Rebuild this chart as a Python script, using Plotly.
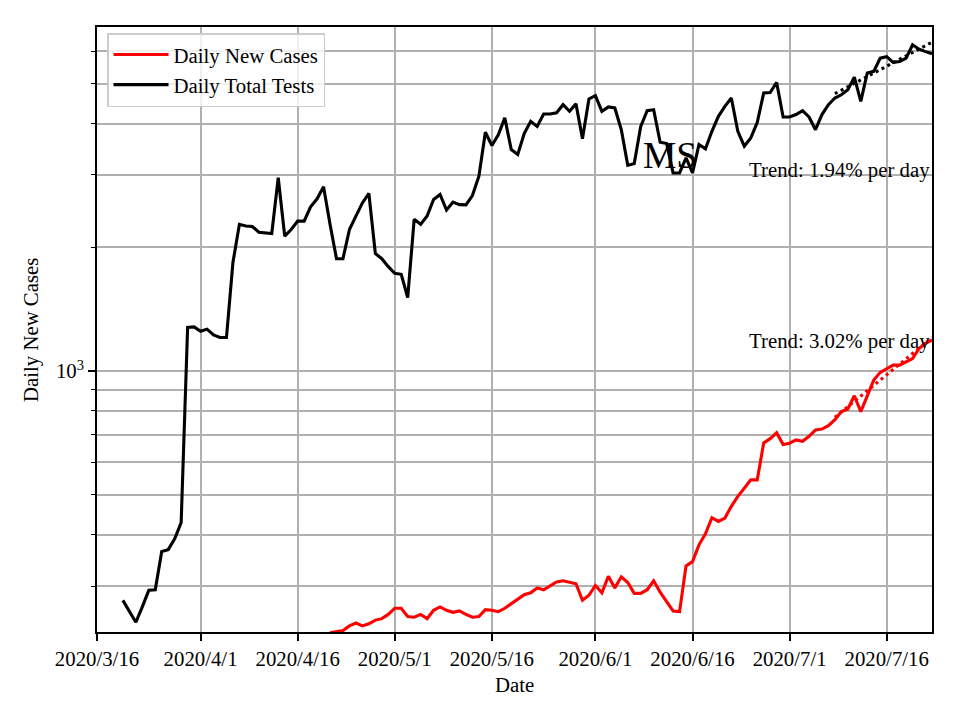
import numpy as np
import pandas as pd
import plotly.graph_objects as go

# ---------------- data ----------------
tests_start = "2020-03-20"
daily_total_tests = [
    277, 261, 245, 267, 293, 294, 364, 368, 391, 428,
    1277, 1281, 1250, 1265, 1225, 1207, 1207, 1837, 2275, 2255,
    2248, 2177, 2170, 2162, 2953, 2130, 2210, 2316, 2316, 2510,
    2625, 2807, 2275, 1877, 1877, 2210, 2383, 2565, 2705, 1932,
    1877, 1795, 1729, 1720, 1510, 2340, 2275, 2383, 2615, 2690,
    2464, 2577, 2541, 2538, 2673, 2978, 3810, 3537, 3757, 4129,
    3458, 3366, 3783, 4050, 3936, 4222, 4222, 4249, 4446, 4285,
    4467, 3673, 4591, 4677, 4285, 4390, 4365, 3865, 3165, 3197,
    3936, 4300, 4323, 3603, 3578, 3034, 3034, 3302, 3034, 3557,
    3472, 3830, 4166, 4404, 4615, 3830, 3524, 3690, 4025, 4749,
    4760, 5036, 4150, 4150, 4208, 4300, 4150, 3865, 4208, 4446,
    4615, 4700, 4837, 5189, 4530, 5310, 5360, 5770, 5820, 5635,
    5660, 5770, 6220, 6067, 5986, 5916,
]

cases_start = "2020-04-21"
daily_new_cases = [
    231, 233, 234, 240, 244, 240, 243, 248, 250, 256,
    265, 265, 253, 252, 256, 250, 262, 267, 262, 259,
    261, 256, 252, 253, 263, 262, 260, 265, 272, 279,
    286, 289, 297, 294, 300, 307, 309, 307, 304, 277,
    285, 301, 289, 317, 297, 316, 306, 288, 288, 294,
    309, 290, 275, 261, 260, 336, 344, 378, 402, 440,
    431, 439, 469, 496, 519, 544, 544, 669, 685, 708,
    663, 668, 680, 675, 694, 719, 723, 737, 762, 797,
    809, 871, 797, 875, 951, 993, 1015, 1034, 1034, 1053,
    1073, 1135, 1168, 1191,
]

# trend lines (exponential -> straight on the log axis): two end points each
trend_dates = ["2020-07-08", "2020-07-23"]
tests_trend = [4730, 6310]
cases_trend = [772, 1207]
tests_trend_label = "Trend: 1.94% per day"
cases_trend_label = "Trend: 3.02% per day"

x_tick_dates = ["2020-03-16", "2020-04-01", "2020-04-16", "2020-05-01", "2020-05-16",
                "2020-06-01", "2020-06-16", "2020-07-01", "2020-07-16"]
x_tick_labels = ["2020/3/16", "2020/4/1", "2020/4/16", "2020/5/1", "2020/5/16",
                 "2020/6/1", "2020/6/16", "2020/7/1", "2020/7/16"]
y_major_ticks = [1000]
y_major_labels = ["10<sup>3</sup>"]
y_minor_ticks = [300, 400, 500, 600, 700, 800, 900, 2000, 3000, 4000, 5000, 6000]
x_range = ["2020-03-16", "2020-07-23"]
y_limits = [232, 6870]

# ---------------- figure ----------------
FONT = "Liberation Serif"
FS = 20.8
GRID = "#b0b0b0"

tests_dates = pd.date_range(tests_start, periods=len(daily_total_tests), freq="D")
cases_dates = pd.date_range(cases_start, periods=len(daily_new_cases), freq="D")

fig = go.Figure()
fig.add_trace(go.Scatter(x=cases_dates, y=daily_new_cases, mode="lines",
                         name="Daily New Cases", line=dict(color="#ff0000", width=3.1)))
fig.add_trace(go.Scatter(x=tests_dates, y=daily_total_tests, mode="lines",
                         name="Daily Total Tests", line=dict(color="#000000", width=3.1)))
fig.add_trace(go.Scatter(x=pd.to_datetime(trend_dates), y=tests_trend, mode="lines",
                         showlegend=False, line=dict(color="#000000", width=3.1, dash="3px,3.6px")))
fig.add_trace(go.Scatter(x=pd.to_datetime(trend_dates), y=cases_trend, mode="lines",
                         showlegend=False, line=dict(color="#ff0000", width=3.1, dash="3px,3.6px")))

# the page body adds an 8px offset; the figure is sized so the plot area lands
# at page pixels x 97..932, y 27..632
OFF = 8
W, H = 944, 704
L = 97 - OFF
T = 27 - OFF
R = W - (932 - OFF)
B = H - (632 - OFF)

fig.update_layout(
    width=W, height=H,
    margin=dict(l=L, r=R, t=T, b=B, pad=0),
    paper_bgcolor="white", plot_bgcolor="white",
    font=dict(family=FONT, size=FS, color="black"),
    showlegend=True,
    legend=dict(x=0.012, y=0.99, xanchor="left", yanchor="top",
                bgcolor="rgba(255,255,255,0.8)", bordercolor="#cccccc", borderwidth=1.5,
                font=dict(family=FONT, size=FS), itemwidth=55, tracegroupgap=0),
    xaxis=dict(
        type="date", range=x_range,
        tickmode="array", tickvals=x_tick_dates, ticktext=x_tick_labels,
        ticks="outside", ticklen=7, tickwidth=1.7, tickcolor="black",
        showgrid=True, gridcolor=GRID, gridwidth=1.7,
        showline=True, linecolor="black", linewidth=1.7, mirror=True,
        zeroline=False, tickfont=dict(family=FONT, size=FS),
    ),
    yaxis=dict(
        type="log", range=[np.log10(y_limits[0]), np.log10(y_limits[1])],
        tickmode="array", tickvals=y_major_ticks, ticktext=y_major_labels,
        ticks="outside", ticklen=7, tickwidth=1.7, tickcolor="black",
        showgrid=True, gridcolor=GRID, gridwidth=1.7,
        minor=dict(tickmode="array", tickvals=y_minor_ticks, ticks="outside", ticklen=4,
                   tickwidth=1.2, tickcolor="black", showgrid=True, gridcolor=GRID, gridwidth=1.7),
        showline=True, linecolor="black", linewidth=1.7, mirror=True,
        zeroline=False, tickfont=dict(family=FONT, size=FS),
    ),
)

pw = W - L - R
ph = H - T - B
def px(xp):
    # page pixel x -> paper fraction
    return (xp - OFF - L) / pw
def py(yp):
    # page pixel y -> paper fraction
    return (H - B - (yp - OFF)) / ph

annotations = [
    dict(text="Daily New Cases", x=px(31), y=py(330), textangle=-90,
         xanchor="center", yanchor="middle", font=dict(family=FONT, size=FS)),
    dict(text="Date", x=px(514), y=py(684), xanchor="center", yanchor="middle",
         font=dict(family=FONT, size=FS)),
    dict(text="MS", x=px(670), y=py(155), xanchor="center", yanchor="middle",
         font=dict(family=FONT, size=37.5)),
    dict(text=tests_trend_label, x=1.0, y=py(170), xanchor="right", yanchor="middle",
         font=dict(family=FONT, size=FS)),
    dict(text=cases_trend_label, x=1.0, y=py(341), xanchor="right", yanchor="middle",
         font=dict(family=FONT, size=FS)),
]
for a in annotations:
    a.update(xref="paper", yref="paper", showarrow=False)
fig.update_layout(annotations=annotations)

fig.write_html("out.html")
